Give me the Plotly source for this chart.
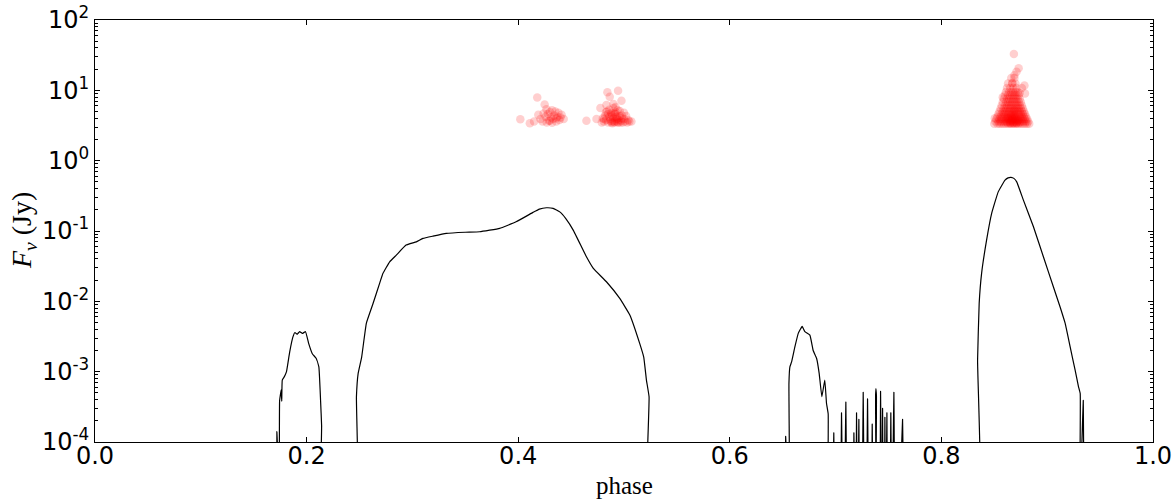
import plotly.graph_objects as go

FLOOR = 1e-6  # below the axis: line drops out of view

# ---- model light curve (black line) ----
curve_phase = [
    0.0, 0.1712, 0.1719, 0.1726, 0.1735, 0.1745, 0.176, 0.1765, 0.177, 0.179, 0.181,
    0.184, 0.187, 0.189, 0.191, 0.1934, 0.196, 0.199, 0.202, 0.2054, 0.209, 0.2116,
    0.2132, 0.2142, 0.2148,
    0.247, 0.2471, 0.2487, 0.252, 0.2565, 0.2628, 0.269, 0.2722, 0.2785, 0.2848, 0.294,
    0.3037, 0.310, 0.3194, 0.332,
    0.35, 0.3636, 0.3825, 0.398, 0.414, 0.42, 0.4267, 0.433, 0.4393, 0.445, 0.452,
    0.4645, 0.471, 0.4834, 0.496, 0.5055, 0.5149, 0.5187, 0.5212, 0.5237, 0.5243,
    0.6525, 0.6528, 0.6531, 0.6558, 0.6559, 0.6568, 0.6584, 0.6615, 0.6647, 0.6684,
    0.671, 0.6757, 0.6788, 0.682, 0.6845, 0.687, 0.6898, 0.6914, 0.693, 0.6936,
    0.6980, 0.6983, 0.6986, 0.7053, 0.7056, 0.7059, 0.7094, 0.7097, 0.7100,
    0.7170, 0.7173, 0.7176, 0.7195, 0.7198, 0.7201, 0.7217, 0.7220, 0.7223,
    0.7258, 0.7261, 0.7264, 0.7299, 0.7302, 0.7305, 0.7343, 0.7346, 0.7349,
    0.7372, 0.7378, 0.7381, 0.7386, 0.7392, 0.7422, 0.7425, 0.7428, 0.7441, 0.7444, 0.7447,
    0.7463, 0.7466, 0.7469, 0.7482, 0.7485, 0.7488, 0.7519, 0.7522, 0.7525,
    0.7548, 0.7551, 0.7554, 0.7630, 0.7633, 0.7636,
    0.8341, 0.8342, 0.8357, 0.838, 0.8427, 0.8475, 0.8537, 0.8601, 0.863, 0.8658,
    0.8685, 0.8712, 0.8775, 0.887, 0.8964, 0.9059, 0.9122, 0.917, 0.9217, 0.9264,
    0.9296, 0.9312, 0.9313, 0.9338, 0.9341, 0.9344, 1.0,
]
curve_flux = [
    FLOOR, FLOOR, 1.4e-4, FLOOR, FLOOR, 3.9e-4, 5.5e-4, 3.8e-4, 7.6e-4, 8.5e-4, 1.0e-3,
    1.9e-3, 3.1e-3, 3.6e-3, 3.4e-3, 3.7e-3, 3.5e-3, 3.7e-3, 2.5e-3, 1.8e-3, 1.55e-3, 1.17e-3,
    3.9e-4, 1.7e-4, FLOOR,
    FLOOR, 4.4e-4, 9.4e-4, 1.6e-3, 4.9e-3, 9.3e-3, 1.8e-2, 2.5e-2, 3.65e-2, 4.54e-2, 6.3e-2,
    7.0e-2, 7.85e-2, 8.45e-2, 9.25e-2,
    9.6e-2, 9.75e-2, 1.09e-1, 1.35e-1, 1.84e-1, 2.05e-1, 2.14e-1, 2.1e-1, 1.87e-1, 1.5e-1, 1.03e-1,
    4.3e-2, 2.94e-2, 1.9e-2, 1.1e-2, 6.4e-3, 2.5e-3, 1.6e-3, 7.6e-4, 4.4e-4, FLOOR,
    FLOOR, 1.2e-4, FLOOR, FLOOR, 6.8e-4, 1.17e-3, 1.38e-3, 2.25e-3, 3.5e-3, 4.4e-3,
    3.7e-3, 3.3e-3, 2.0e-3, 1.55e-3, 9.4e-4, 4.4e-4, 7.6e-4, 3.55e-4, 2.5e-4, FLOOR,
    FLOOR, 1.35e-4, FLOOR, FLOOR, 2.6e-4, FLOOR, FLOOR, 3.7e-4, FLOOR,
    FLOOR, 1.35e-4, FLOOR, FLOOR, 2.6e-4, FLOOR, FLOOR, 2.1e-4, FLOOR,
    FLOOR, 5.1e-4, FLOOR, FLOOR, 4.1e-4, FLOOR, FLOOR, 1.8e-4, FLOOR,
    FLOOR, 4.5e-4, 5.75e-4, 4.5e-4, FLOOR, FLOOR, 5.25e-4, FLOOR, FLOOR, 3.0e-4, FLOOR,
    FLOOR, 2.25e-4, FLOOR, FLOOR, 2.6e-4, FLOOR, FLOOR, 2.6e-4, FLOOR,
    FLOOR, 5.1e-4, FLOOR, FLOOR, 2.1e-4, FLOOR,
    FLOOR, 1.46e-3, 9.3e-3, 2.5e-2, 7.4e-2, 1.78e-1, 3.6e-1, 5.3e-1, 5.7e-1, 5.8e-1,
    5.6e-1, 5.0e-1, 2.75e-1, 1.15e-1, 4.3e-2, 1.6e-2, 8.3e-3, 4.85e-3, 2.25e-3, 1.05e-3,
    6.1e-4, 4.9e-4, FLOOR, FLOOR, 3.9e-4, FLOOR, FLOOR,
]

# ---- observed pulses (red points) ----
obs_a_phase = [0.402, 0.411, 0.415, 0.418, 0.419, 0.421, 0.423, 0.424, 0.425, 0.4267,
               0.427, 0.428, 0.429, 0.430, 0.431, 0.432, 0.433, 0.434, 0.435, 0.436,
               0.437, 0.438, 0.439, 0.440, 0.441, 0.443, 0.426, 0.432, 0.436, 0.430]
obs_a_flux = [3.87, 3.4, 3.6, 7.9, 4.5, 3.9, 3.6, 4.7, 6.3, 5.4,
              3.5, 4.6, 3.7, 4.9, 4.1, 5.2, 3.9, 4.4, 5.0, 3.6,
              4.2, 4.8, 3.8, 4.1, 4.5, 3.9, 4.2, 3.45, 4.0, 3.7]

obs_b_phase = [0.4645, 0.474, 0.4777, 0.4834, 0.4843, 0.4865, 0.4944, 0.4976, 0.507, 0.479,
               0.480, 0.481, 0.482, 0.483, 0.484, 0.485, 0.486, 0.487, 0.488, 0.489,
               0.490, 0.491, 0.492, 0.493, 0.494, 0.495, 0.496, 0.497, 0.498, 0.499,
               0.500, 0.501, 0.502, 0.503, 0.504, 0.505, 0.486, 0.488, 0.490, 0.492,
               0.494, 0.496, 0.498, 0.487, 0.489, 0.491, 0.493, 0.495, 0.490, 0.492,
               0.485, 0.497, 0.500, 0.483, 0.481, 0.488, 0.494, 0.491, 0.489, 0.493]
obs_b_flux = [3.7, 3.9, 5.6, 6.2, 9.4, 8.1, 9.9, 7.1, 3.6, 3.5,
              4.0, 3.6, 4.4, 3.8, 5.0, 3.5, 4.2, 3.7, 4.8, 3.4,
              4.1, 3.6, 4.6, 3.9, 5.2, 3.5, 4.3, 3.7, 4.0, 3.5,
              3.9, 3.6, 4.3, 3.5, 3.8, 3.6, 5.3, 4.5, 5.6, 4.9,
              4.0, 5.1, 4.4, 3.9, 4.3, 4.7, 3.6, 3.8, 6.4, 5.8,
              4.6, 3.5, 4.8, 4.9, 3.9, 3.5, 3.5, 3.5, 3.6, 4.2]

obs_c_phase = [
    0.850, 0.853, 0.855, 0.857, 0.859, 0.861, 0.863, 0.865, 0.867, 0.869, 0.871, 0.873, 0.875, 0.877, 0.879, 0.881, 0.883,
    0.851, 0.854, 0.856, 0.858, 0.860, 0.862, 0.864, 0.866, 0.868, 0.870, 0.872, 0.874, 0.876, 0.878, 0.880, 0.882,
    0.852, 0.855, 0.857, 0.859, 0.861, 0.863, 0.865, 0.867, 0.869, 0.871, 0.873, 0.875, 0.877, 0.879, 0.881,
    0.853, 0.856, 0.858, 0.860, 0.862, 0.864, 0.866, 0.868, 0.870, 0.872, 0.874, 0.876, 0.878, 0.880,
    0.854, 0.857, 0.859, 0.861, 0.863, 0.865, 0.867, 0.869, 0.871, 0.873, 0.875, 0.877, 0.879,
    0.855, 0.858, 0.860, 0.862, 0.864, 0.866, 0.868, 0.870, 0.872, 0.874, 0.876, 0.878,
    0.856, 0.859, 0.861, 0.863, 0.865, 0.867, 0.869, 0.871, 0.873, 0.875, 0.877,
    0.857, 0.860, 0.862, 0.864, 0.866, 0.868, 0.870, 0.872, 0.874, 0.876,
    0.858, 0.861, 0.863, 0.865, 0.867, 0.869, 0.871, 0.873, 0.875,
    0.859, 0.862, 0.864, 0.866, 0.868, 0.870, 0.872, 0.874,
    0.860, 0.863, 0.865, 0.867, 0.869, 0.871, 0.873,
    0.861, 0.864, 0.866, 0.868, 0.870, 0.872,
    0.862, 0.865, 0.868, 0.871, 0.876,
    0.863, 0.867, 0.870,
    0.866, 0.869,
    0.869, 0.871, 0.873, 0.8685, 0.867, 0.8785, 0.879, 0.8505, 0.858, 0.874,
    0.862, 0.865, 0.868, 0.871, 0.874, 0.864, 0.867, 0.870, 0.873, 0.866,
    0.869, 0.868, 0.865, 0.871, 0.867, 0.863, 0.870, 0.872, 0.866, 0.869,
]
obs_c_flux = [
    3.35, 3.35, 3.35, 3.35, 3.35, 3.35, 3.35, 3.35, 3.35, 3.35, 3.35, 3.35, 3.35, 3.35, 3.35, 3.35, 3.35,
    3.6, 3.6, 3.6, 3.6, 3.6, 3.6, 3.6, 3.6, 3.6, 3.6, 3.6, 3.6, 3.6, 3.6, 3.6, 3.6,
    3.9, 3.9, 3.9, 3.9, 3.9, 3.9, 3.9, 3.9, 3.9, 3.9, 3.9, 3.9, 3.9, 3.9, 3.9,
    4.2, 4.2, 4.2, 4.2, 4.2, 4.2, 4.2, 4.2, 4.2, 4.2, 4.2, 4.2, 4.2, 4.2,
    4.6, 4.6, 4.6, 4.6, 4.6, 4.6, 4.6, 4.6, 4.6, 4.6, 4.6, 4.6, 4.6,
    5.0, 5.0, 5.0, 5.0, 5.0, 5.0, 5.0, 5.0, 5.0, 5.0, 5.0, 5.0,
    5.5, 5.5, 5.5, 5.5, 5.5, 5.5, 5.5, 5.5, 5.5, 5.5, 5.5,
    6.1, 6.1, 6.1, 6.1, 6.1, 6.1, 6.1, 6.1, 6.1, 6.1,
    6.8, 6.8, 6.8, 6.8, 6.8, 6.8, 6.8, 6.8, 6.8,
    7.6, 7.6, 7.6, 7.6, 7.6, 7.6, 7.6, 7.6,
    8.5, 8.5, 8.5, 8.5, 8.5, 8.5, 8.5,
    9.5, 9.5, 9.5, 9.5, 9.5, 9.5,
    10.8, 10.8, 10.8, 10.8, 10.8,
    12.5, 12.5, 12.5,
    15.0, 15.0,
    16.4, 18.4, 20.6, 32.8, 12.7, 11.7, 9.0, 4.0, 8.0, 9.2,
    3.5, 3.5, 3.5, 3.5, 3.5, 3.8, 3.8, 3.8, 3.8, 4.4,
    4.4, 3.4, 3.4, 3.4, 4.0, 4.0, 4.0, 3.7, 3.7, 5.2,
]

# ---- axis tick labels ----
x_ticks = [0.0, 0.2, 0.4, 0.6, 0.8, 1.0]
x_ticklabels = ["0.0", "0.2", "0.4", "0.6", "0.8", "1.0"]
y_ticks = [1e-4, 1e-3, 1e-2, 1e-1, 1e0, 1e1, 1e2]
y_ticklabels = ["10<sup>-4</sup>", "10<sup>-3</sup>", "10<sup>-2</sup>", "10<sup>-1</sup>",
                "10<sup>0</sup>", "10<sup>1</sup>", "10<sup>2</sup>"]
y_minor = [m * 10.0 ** e for e in range(-4, 2) for m in range(2, 10)]

fig = go.Figure()
fig.add_trace(go.Scatter(x=curve_phase, y=curve_flux, mode="lines",
                         line=dict(color="black", width=1.2, shape="spline", smoothing=0.3),
                         showlegend=False))
for px_, fx_ in [(obs_a_phase, obs_a_flux), (obs_b_phase, obs_b_flux), (obs_c_phase, obs_c_flux)]:
    fig.add_trace(go.Scatter(x=px_, y=fx_, mode="markers",
                             marker=dict(color="red", size=8.5, opacity=0.19, line=dict(width=0)),
                             showlegend=False))

axis_common = dict(showline=True, linecolor="black", linewidth=1, mirror="allticks",
                   ticks="inside", ticklen=5, tickwidth=1, tickcolor="black",
                   showgrid=False, zeroline=False, automargin=False,
                   ticklabeloverflow="allow",
                   tickfont=dict(family="DejaVu Sans", size=24, color="black"))

fig.update_xaxes(range=[0, 1], tickvals=x_ticks, ticktext=x_ticklabels,
                 ticklabelstandoff=-8, **axis_common)
fig.update_yaxes(type="log", range=[-4, 2], tickvals=y_ticks, ticktext=y_ticklabels,
                 minor=dict(ticks="inside", ticklen=3, tickcolor="black", tickvals=y_minor),
                 **axis_common)

fig.update_layout(
    width=1174, height=499,
    margin=dict(l=95, r=21, t=20, b=57, autoexpand=False),
    paper_bgcolor="white", plot_bgcolor="white",
    annotations=[
        dict(text="phase", xref="paper", yref="paper", x=0.5, y=-0.104,
             xanchor="center", yanchor="middle", showarrow=False,
             font=dict(family="Liberation Serif", size=25, color="black")),
        dict(text="<i>F</i><sub><i>ν</i></sub> (Jy)", xref="paper", yref="paper",
             x=-0.068, y=0.50, xanchor="center", yanchor="middle", textangle=-90,
             showarrow=False, font=dict(family="Liberation Serif", size=28, color="black")),
    ],
)

# remove the browser's default 8px body margin so the figure sits at the window origin
fig.write_html("out.html",
               config={"displayModeBar": False},
               post_script="document.documentElement.style.margin='0';"
                           "document.body.style.margin='0';"
                           "document.body.style.overflow='hidden';")
